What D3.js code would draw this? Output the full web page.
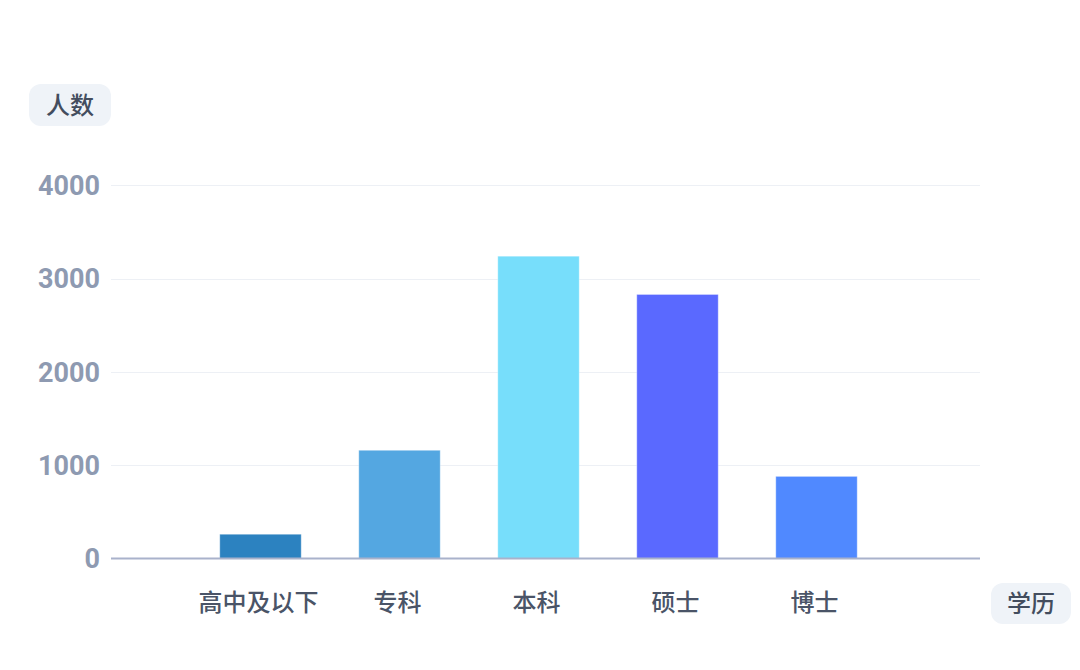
<!DOCTYPE html>
<html>
<head>
<meta charset="utf-8">
<script src="https://cdn.jsdelivr.net/npm/d3@7/dist/d3.min.js"></script>
<style>
  html, body { margin: 0; padding: 0; background: #ffffff; }
  svg { display: block; }
</style>
</head>
<body>
<svg id="chart" width="1080" height="670"></svg>
<script>
const categories = ["高中及以下", "专科", "本科", "硕士", "博士"];
const values = [260, 1160, 3240, 2830, 880];
const barColors = ["#2C82C0", "#54A7E1", "#77DEFB", "#5A69FF", "#5089FF"];
const yTicks = [0, 1000, 2000, 3000, 4000];
const yAxisTitle = "人数";
const xAxisTitle = "学历";

const svg = d3.select("#chart");
const cjk = "'Noto Sans CJK SC', 'Noto Sans', sans-serif";

const x = d3.scaleBand().domain(categories).range([191, 886]).paddingInner(0.414).paddingOuter(0.207);
const y = d3.scaleLinear().domain([0, 4000]).range([558.5, 185.3]);

const plotLeft = 111, plotRight = 980;

// grid lines
svg.append("g").selectAll("line").data(yTicks.filter(d => d !== 0)).join("line")
  .attr("x1", plotLeft).attr("x2", plotRight)
  .attr("y1", d => Math.round(y(d)) + 0.5).attr("y2", d => Math.round(y(d)) + 0.5)
  .attr("stroke", "#EDF0F5").attr("stroke-width", 1.2);

// y tick labels
svg.append("g").selectAll("text").data(yTicks).join("text")
  .attr("x", 100).attr("y", d => y(d))
  .attr("dy", "0.36em")
  .attr("text-anchor", "end")
  .attr("font-family", "Roboto, 'DejaVu Sans', sans-serif")
  .attr("font-weight", 700)
  .attr("font-size", 27)
  .attr("fill", "#8E9AB1")
  .text(d => d);

// bars
svg.append("g").selectAll("rect").data(categories).join("rect")
  .attr("x", d => x(d))
  .attr("width", x.bandwidth())
  .attr("y", (d, i) => y(values[i]))
  .attr("height", (d, i) => y(0) - y(values[i]))
  .attr("fill", (d, i) => barColors[i])
  .attr("stroke", "rgba(255,255,255,0.35)")
  .attr("stroke-width", 1);

// x axis line
svg.append("line")
  .attr("x1", plotLeft).attr("x2", plotRight)
  .attr("y1", y(0)).attr("y2", y(0))
  .attr("stroke", "#A9B2CB").attr("stroke-width", 2);

// category labels
svg.append("g").selectAll("text").data(categories).join("text")
  .attr("x", d => x(d) + x.bandwidth() / 2 - 2)
  .attr("y", 602)
  .attr("dy", "0.36em")
  .attr("text-anchor", "middle")
  .attr("font-family", cjk)
  .attr("font-weight", 500)
  .attr("font-size", 24)
  .attr("fill", "#4A5467")
  .text(d => d);

// axis title boxes
function titleBox(x0, y0, w, h, label) {
  const g = svg.append("g");
  g.append("rect").attr("x", x0).attr("y", y0).attr("width", w).attr("height", h)
    .attr("rx", 12).attr("fill", "#EFF3F8");
  g.append("text").attr("x", x0 + w / 2).attr("y", y0 + h / 2)
    .attr("dy", "0.36em").attr("text-anchor", "middle")
    .attr("font-family", cjk).attr("font-weight", 500).attr("font-size", 24)
    .attr("fill", "#434D5E").text(label);
}
titleBox(29, 84, 82, 42, yAxisTitle);
titleBox(991, 583, 80, 41, xAxisTitle);
</script>
</body>
</html>
